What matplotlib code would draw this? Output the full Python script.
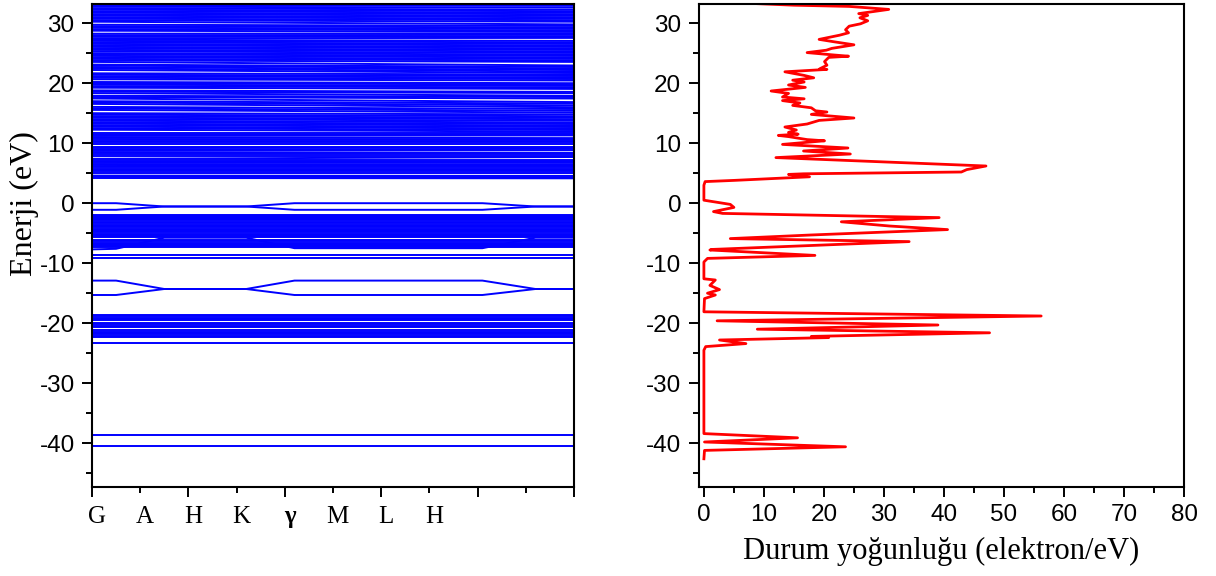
import numpy as np
import matplotlib
matplotlib.use('Agg')
import matplotlib.pyplot as plt

plt.rcParams['axes.unicode_minus'] = False

# band structure: k path (x axis runs 0..5, label every 0.5)
k_labels = ['G', 'A', 'H', 'K', 'γ', 'M', 'L', 'H']
k_label_pos = [0.0, 0.5, 1.0, 1.5, 2.0, 2.5, 3.0, 3.5]

# dispersive bands, energies (eV) at these k nodes
k_nodes = [0.0, 0.25, 0.75, 1.6, 2.1, 4.05, 4.6, 5.0]
vb_top_upper = [0.0, 0.0, -0.55, -0.55, 0.0, 0.0, -0.55, -0.55]
vb_top_lower = [-1.1, -1.1, -0.55, -0.55, -1.1, -1.1, -0.55, -0.55]
vb_mid_lower = [-7.7, -7.6, -5.75, -5.75, -7.5, -7.5, -5.75, -5.75]
core_upper = [-12.9, -12.9, -14.3, -14.3, -12.9, -12.9, -14.3, -14.3]
core_lower = [-15.3, -15.3, -14.3, -14.3, -15.3, -15.3, -14.3, -14.3]

# nearly flat bands (eV)
vb_levels = [-1.9, -2.1, -2.3, -2.5, -2.7, -2.85, -3.15, -3.35, -3.55, -3.75,
             -3.95, -4.25, -4.45, -4.65, -4.85, -5.05, -5.25, -5.45, -5.6,
             -6.15, -6.35, -6.55, -6.75, -6.95, -7.15, -7.35, -8.65, -9.05]
semicore_levels = [-18.65, -18.85, -19.05, -19.25, -19.45, -20.0, -20.2, -20.4,
                   -20.6, -21.2, -21.4, -21.6, -21.8, -22.05, -22.35, -23.3]
deep_levels = [-38.7, -40.4]

# conduction bands: energy at G (k=0) and at the path end (k=5)
cb_start = [4.2, 4.4, 4.6, 5.05, 5.3, 5.5, 5.75, 6.0, 6.2, 6.45, 6.7, 6.95, 7.2, 7.4,
            7.95, 8.2, 8.45, 8.7, 8.95, 9.2, 9.45, 9.95, 10.2, 10.45, 10.7, 10.95,
            11.2, 11.45, 11.7, 12.25, 12.5, 12.75, 13.0, 13.25, 13.5, 13.75, 14.0,
            14.25, 14.5, 14.75, 15.0, 15.55, 15.8, 16.05, 16.55, 16.8, 17.0, 17.45,
            17.7, 17.9, 18.35, 18.6, 18.8, 19.25, 19.5, 19.75, 20.0, 20.2, 20.65,
            20.9, 21.15, 21.4, 21.65, 22.2, 22.45, 22.7, 22.95, 23.1, 23.55, 23.8,
            24.05, 24.3, 24.55, 24.8, 25.0, 25.3, 25.55, 25.8, 26.05, 26.3, 26.55,
            26.8, 27.05, 27.25, 27.5, 27.75, 28.0, 28.25, 28.75, 29.0, 29.25, 29.5,
            29.75, 30.25, 30.5, 30.75, 31.0, 31.25, 31.5, 31.75, 32.0, 32.25, 32.5,
            32.75, 33.0, 33.25]
cb_end = [4.15, 4.35, 4.55, 5.05, 5.3, 5.5, 5.75, 6.0, 6.25, 6.5, 6.75, 7.0, 7.2, 7.7,
          7.95, 8.2, 8.4, 8.85, 9.05, 9.25, 9.45, 9.95, 10.2, 10.45, 10.65, 10.85,
          11.3, 11.5, 11.7, 11.95, 12.2, 12.45, 12.7, 12.95, 13.2, 13.45, 13.75,
          14.0, 14.25, 14.5, 14.8, 15.1, 15.4, 15.7, 16.0, 16.3, 16.6, 16.85,
          17.45, 17.7, 17.9, 18.35, 18.55, 19.05, 19.3, 19.55, 19.8, 20.0, 20.45,
          20.7, 20.95, 21.2, 21.45, 21.7, 21.95, 22.2, 22.45, 22.7, 22.95, 23.55,
          23.8, 24.05, 24.3, 24.55, 24.8, 25.05, 25.3, 25.55, 25.8, 26.05, 26.3,
          26.55, 26.8, 27.05, 27.55, 27.8, 28.05, 28.3, 28.55, 28.8, 29.05, 29.3,
          29.55, 29.8, 30.25, 30.5, 30.75, 31.0, 31.25, 31.5, 31.75, 32.0, 32.25,
          32.6, 32.9, 33.2]

# density of states: energy (eV) and DOS (electron/eV), read top to bottom
dos_energy = [33.4, 33.0, 32.8, 32.3, 31.6, 31.3, 30.9, 30.4, 29.9, 29.5, 28.9, 28.4,
              28.0, 27.3, 26.9, 26.4, 25.8, 25.5, 25.1, 24.7, 24.5, 24.3, 23.6, 23.0,
              22.4, 22.3, 21.9, 21.3, 20.9, 20.5, 20.2, 19.7, 19.3, 18.7, 18.3, 17.7,
              17.4, 17.1, 16.7, 16.3, 15.9, 15.4, 15.2, 14.8, 14.2, 13.8, 13.2, 12.7,
              12.2, 11.8, 11.5, 11.3, 11.1, 10.6, 10.4, 9.8, 9.2, 8.7, 8.2, 7.6,
              6.2, 5.6, 5.2, 4.9, 4.8, 4.4, 3.8, 3.6, 3.0, 0.5, 0.2, -0.2, -0.7,
              -1.4, -1.7, -2.4, -3.1, -3.8, -4.4, -5.3, -5.9, -6.4, -7.7, -7.8, -8.7,
              -9.2, -9.8, -12.6, -12.8, -13.7, -14.4, -15.0, -15.3, -15.9, -18.1,
              -18.8, -19.6, -20.3, -21.0, -21.6, -22.2, -22.4, -22.8, -23.4, -23.9,
              -24.5, -38.4, -39.1, -39.8, -40.6, -41.2, -42.6]
dos_value = [5.5, 15.0, 24.2, 30.8, 25.8, 27.3, 26.0, 27.3, 26.1, 24.2, 23.6, 24.1,
             22.6, 19.2, 21.7, 25.0, 21.3, 20.4, 17.2, 21.7, 24.1, 20.8, 20.1, 20.5,
             19.3, 20.5, 13.5, 16.7, 18.3, 14.8, 16.7, 14.1, 16.9, 11.2, 14.1, 13.1,
             16.7, 13.1, 16.0, 14.8, 17.9, 18.6, 20.5, 17.9, 25.0, 19.2, 17.2, 13.5,
             15.4, 14.1, 15.7, 12.4, 14.1, 17.2, 20.1, 13.1, 24.0, 16.6, 24.4, 12.0,
             47.0, 43.8, 42.9, 16.6, 14.1, 17.6, 5.0, 0.2, 0.0, 0.0, 1.9, 4.4, 5.0,
             1.6, 3.1, 39.2, 22.9, 30.9, 40.6, 17.8, 4.4, 34.2, 1.5, 1.0, 18.5,
             0.6, 0.0, 0.0, 1.9, 1.0, 2.6, 0.6, 1.9, 0.1, 0.0,
             56.2, 2.2, 39.0, 8.9, 47.6, 17.9, 20.8, 2.6, 7.0, 0.3,
             0.0, 0.0, 15.6, 0.1, 23.6, 0.1, 0.0]

sans = 'Liberation Sans'
serif = 'Liberation Serif'
band_color = '#0000ff'
dos_color = '#ff0000'
ylim = (-47.3, 33.2)

fig = plt.figure(figsize=(12.16, 5.76), dpi=100)
ax1 = fig.add_axes([92 / 1216, 1 - 487 / 576, 482 / 1216, 483 / 576])
ax2 = fig.add_axes([698.5 / 1216, 1 - 487 / 576, 485.5 / 1216, 483 / 576])

# left: band structure
lw = 1.4
for band in [vb_top_upper, vb_top_lower, vb_mid_lower, core_upper, core_lower]:
    ax1.plot(k_nodes, band, color=band_color, lw=lw)
ax1.hlines(vb_levels + semicore_levels + deep_levels, 0, 5, color=band_color, lw=lw)
for e0, e1 in zip(cb_start, cb_end):
    ax1.plot([0, 5], [e0, e1], color=band_color, lw=lw)

ax1.set_xlim(0, 5)
ax1.set_ylim(*ylim)
ax1.set_xticks(np.arange(0, 5.01, 1))
ax1.set_xticks(np.arange(0.5, 5, 1), minor=True)
ax1.set_xticklabels([])
for pos, lbl in zip(k_label_pos, k_labels):
    ax1.text(pos + 0.05, -0.074, lbl, transform=ax1.get_xaxis_transform(),
             ha='center', va='baseline', fontsize=18, family=serif,
             fontweight='bold' if lbl == 'γ' else 'normal')
fig.text(24 / 1216, 1 - 204 / 576, 'Enerji (eV)', rotation=90, ha='center',
         va='center', fontsize=23, family=serif)

# right: DOS
ax2.plot(dos_value, dos_energy, color=dos_color, lw=2.0)
ax2.set_xlim(-0.9, 80)
ax2.set_ylim(*ylim)
ax2.set_xticks(np.arange(0, 81, 10))
ax2.set_xticks(np.arange(5, 80, 10), minor=True)
ax2.set_xlabel('Durum yoğunluğu (elektron/eV)', fontsize=22, family=serif)
ax2.xaxis.label.set_va('baseline')
ax2.xaxis.set_label_coords(0.5, -0.149)

for ax in (ax1, ax2):
    ax.set_yticks(np.arange(-40, 31, 10))
    ax.set_yticks(np.arange(-45, 33, 5), minor=True)
    ax.tick_params(which='major', direction='out', length=7.5, width=1.4,
                   labelsize=17.5, pad=5)
    ax.tick_params(which='minor', direction='out', length=4, width=1.4)
    for spine in ax.spines.values():
        spine.set_linewidth(1.5)
    for t in ax.get_xticklabels() + ax.get_yticklabels():
        t.set_family(sans)

fig.savefig('out.png', dpi=100)
